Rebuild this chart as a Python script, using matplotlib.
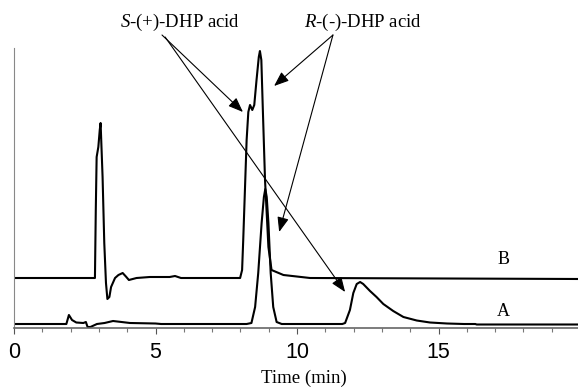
import matplotlib
matplotlib.use("Agg")
import matplotlib.pyplot as plt
import numpy as np

plt.rcParams["mathtext.fontset"] = "custom"
plt.rcParams["mathtext.it"] = "Liberation Serif:italic"
plt.rcParams["mathtext.rm"] = "Liberation Serif"

# ---- data ----
# Trace A: time (min), signal above its baseline
a_time = [0.0, 1.85, 1.94, 2.05, 2.2, 2.45, 2.54, 2.6, 2.7, 2.93, 3.2, 3.5, 3.8, 4.1, 5.0, 5.2,
          8.0, 8.22, 8.39, 8.52, 8.63, 8.75, 8.83, 8.88, 8.93, 8.99, 9.07, 9.16, 9.28, 9.46,
          11.6, 11.70, 11.87, 11.99, 12.11, 12.23, 12.34, 12.58, 12.81, 13.05, 13.40, 13.76,
          14.23, 14.7, 15.3, 15.9, 16.3, 16.35, 20.0]
a_sig = [0, 0, 9, 4, 1.5, 1, 2, -3, -3, 0, 1, 3, 2, 1, 0.5, 0,
         0, 0, 1, 17, 51, 101, 127, 135, 127, 101, 51, 17, 2, 0,
         0, 1, 14, 31, 40, 42, 40, 33, 27, 20, 13, 7,
         3.5, 1.5, 0.5, 0, 0, -0.5, -0.5]

# Trace B: time (min), signal above its baseline
b_time = [0.0, 2.86, 2.89, 2.92, 2.98, 3.03, 3.06, 3.13, 3.19, 3.25, 3.30, 3.37, 3.43, 3.57,
          3.69, 3.84, 3.96, 4.06, 4.33, 4.8, 5.5, 5.69, 5.9, 7.3, 7.99, 8.06, 8.10, 8.16,
          8.22, 8.28, 8.34, 8.42, 8.49, 8.57, 8.65, 8.69, 8.74, 8.79, 8.87, 8.99, 9.1,
          9.52, 10.46, 20.0]
b_sig = [0, 0, 68, 121, 131, 148, 155, 101, 35, -5, -21, -19, -9, 0,
         3, 5, 1.3, -2, 0, 1, 1, 2, 0, 0, 0, 8, 38, 88,
         138, 166, 173, 168, 173, 198, 221, 227, 218, 171, 98, 31, 8,
         3, 0, -1]

a_offset = 4
b_offset = 50

labels = {"S": "-(+)-DHP acid", "R": "-(-)-DHP acid"}
trace_names = ["A", "B"]
xticks_major = [0, 5, 10, 15]

# ---- figure ----
fig = plt.figure(figsize=(5.78, 3.88), dpi=100)
ax = fig.add_axes([14/578, 60/388, 564/578, 280/388])

lw = 1.5
ax.plot(a_time, np.array(a_sig) + a_offset, color="black", lw=lw, solid_joinstyle="round")
ax.plot(b_time, np.array(b_sig) + b_offset, color="black", lw=lw, solid_joinstyle="round")

ax.set_xlim(0, 564/28.3)
ax.set_ylim(0, 280)

for s in ["top", "right"]:
    ax.spines[s].set_visible(False)
ax.spines["left"].set_color("#888888")
ax.spines["left"].set_linewidth(0.8)
ax.spines["bottom"].set_color("#666666")
ax.spines["bottom"].set_linewidth(1.2)

ax.set_yticks([])
ax.set_xticks(xticks_major)
ax.set_xticks(np.arange(0, 20, 1), minor=True)
ax.tick_params(axis="x", which="major", length=4, width=0.8, color="#555555", pad=6,
               labelsize=15.5)
ax.tick_params(axis="x", which="minor", length=3, width=0.8, color="#777777")
for lab in ax.get_xticklabels():
    lab.set_fontfamily("Liberation Sans")

ax.set_xlabel("Time (min)", fontfamily="Liberation Serif", fontsize=13.5, labelpad=5,
              x=(304 - 14) / 564)

serif = "Liberation Serif"
tfs = 13.5
ax.text(5.88, 306, r"$\mathit{S}$" + labels["S"], ha="center", va="center",
        fontsize=tfs, fontfamily=serif, clip_on=False)
ax.text(12.33, 306, r"$\mathit{R}$" + labels["R"], ha="center", va="center",
        fontsize=tfs, fontfamily=serif, clip_on=False)

ax.text(17.28, 69, trace_names[1], ha="center", va="center", fontsize=13, fontfamily=serif)
ax.text(17.28, 17, trace_names[0], ha="center", va="center", fontsize=13, fontfamily=serif)

arrow_kw = dict(arrowstyle="-|>,head_length=0.9,head_width=0.35", color="black", lw=0.8,
                shrinkA=0, shrinkB=0)
arrows = [((5.23, 293), (8.09, 216)), ((5.34, 291), (11.70, 36)),
          ((11.27, 293), (9.19, 242)), ((11.27, 293), (9.37, 96))]
for start, tip in arrows:
    ax.annotate("", xy=tip, xytext=start, arrowprops=arrow_kw, annotation_clip=False)

fig.savefig("out.png", dpi=100)
